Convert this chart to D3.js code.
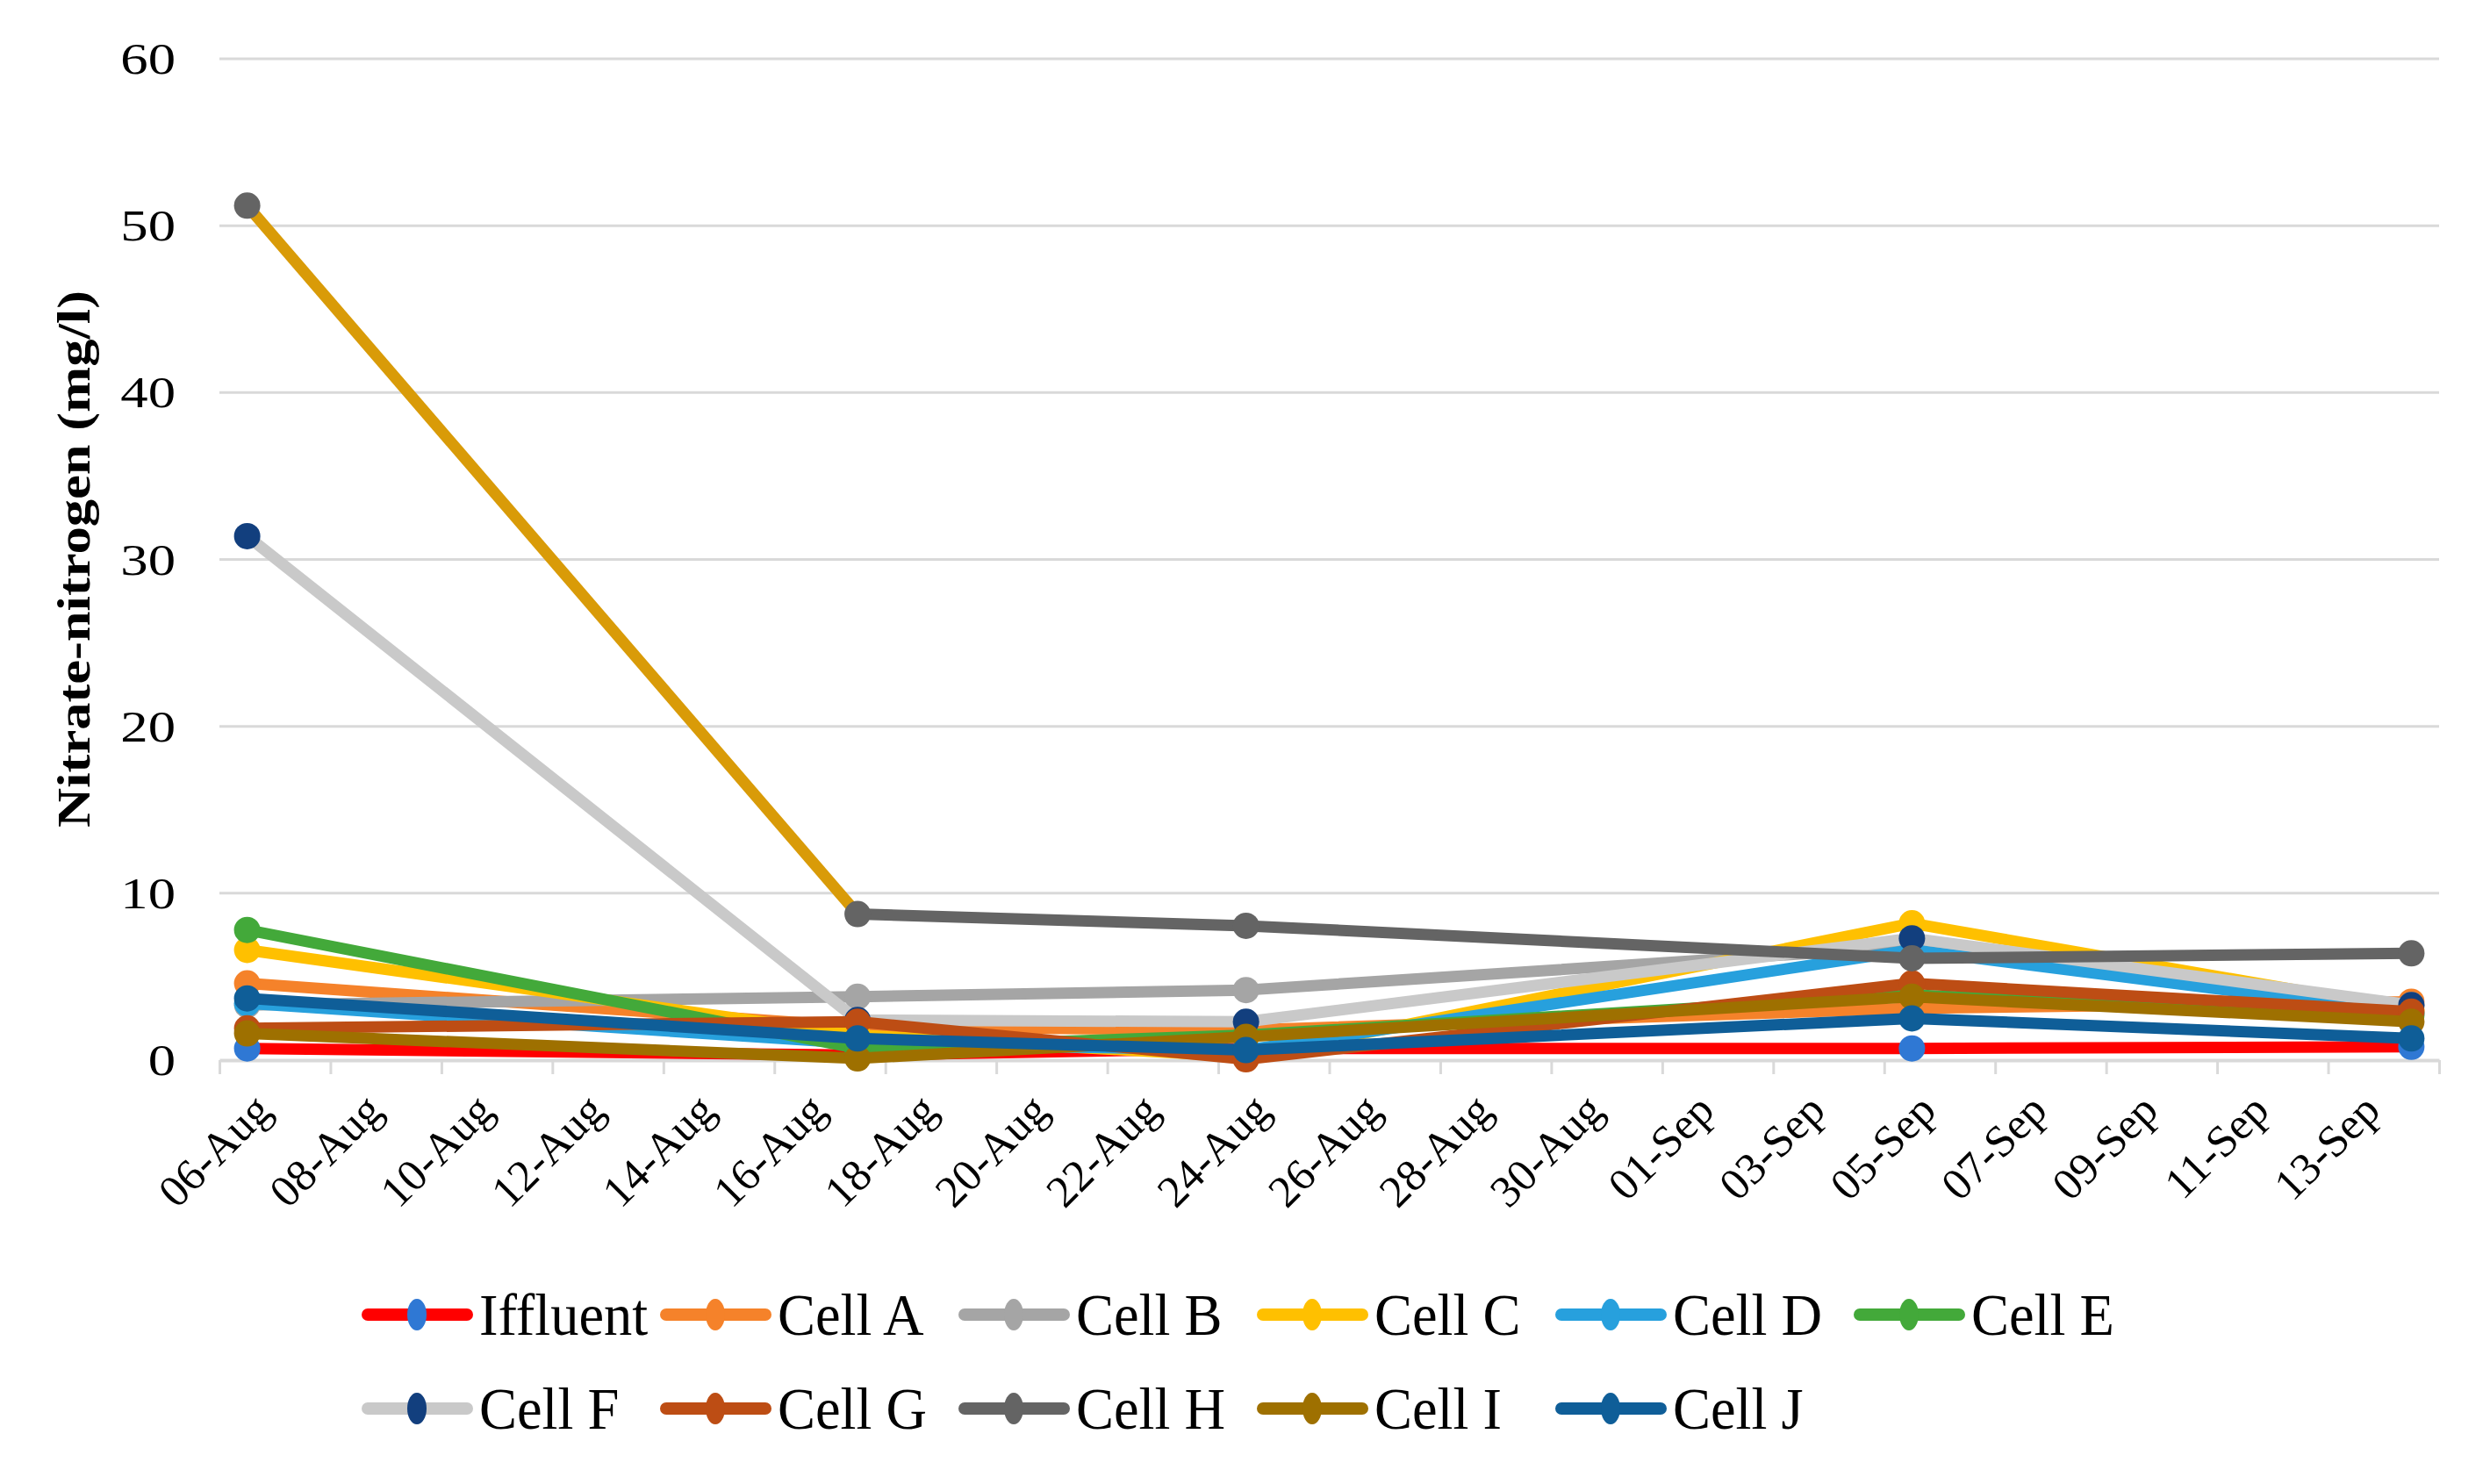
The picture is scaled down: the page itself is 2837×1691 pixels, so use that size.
<!DOCTYPE html>
<html lang="en">
<head>
    <meta charset="UTF-8">
    <title>Nitrate-nitrogen</title>
    <script src="https://d3js.org/d3.v7.min.js"></script>
    <style>
        body { margin: 0; background: #fff; }
        text { font-family: "Liberation Serif", "Times New Roman", serif; fill: #000; }
    </style>
</head>
<body>
    <div class="canvas"></div>
    <script>
        const width = 2837
        const height = 1691

        // sampling dates and series values (mg/l)
        const dates = ['2019-08-06', '2019-08-17', '2019-08-24', '2019-09-05', '2019-09-14']
        const seriesNames = ['Iffluent', 'Cell A', 'Cell B', 'Cell C', 'Cell D', 'Cell E', 'Cell F', 'Cell G', 'Cell H', 'Cell I', 'Cell J']
        const iffluent = [0.7, 0.3, 0.7, 0.7, 0.8]
        const cellA = [4.6, 2.0, 1.8, 3.1, 3.5]
        const cellB = [3.3, 3.8, 4.2, 6.8, 3.3]
        const cellC = [6.6, 1.5, 0.2, 8.2, 3.0]
        const cellD = [3.4, 1.0, 0.6, 6.6, 2.8]
        const cellE = [7.8, 0.7, 1.5, 3.9, 2.7]
        const cellF = [31.4, 2.4, 2.3, 7.3, 3.3]
        const cellG = [1.9, 2.3, 0.05, 4.6, 2.9]
        const cellH = [51.2, 8.75, 8.05, 6.1, 6.4]
        const cellI = [1.6, 0.1, 1.4, 3.8, 2.3]
        const cellJ = [3.7, 1.3, 0.6, 2.5, 1.3]
        const seriesValues = [iffluent, cellA, cellB, cellC, cellD, cellE, cellF, cellG, cellH, cellI, cellJ]

        const xTickLabels = ['06-Aug', '08-Aug', '10-Aug', '12-Aug', '14-Aug', '16-Aug', '18-Aug', '20-Aug', '22-Aug', '24-Aug',
                             '26-Aug', '28-Aug', '30-Aug', '01-Sep', '03-Sep', '05-Sep', '07-Sep', '09-Sep', '11-Sep', '13-Sep']
        const yTicks = [0, 10, 20, 30, 40, 50, 60]

        // line colour / marker colour per series
        const lineColors = ['#ff0000', '#f5822a', '#a5a5a5', '#ffc000', '#27a0dd', '#43a93a', '#c9c9c9', '#bd4d14', '#646464', '#9e7000', '#0f5e98']
        const markerColors = ['#2f78d4', '#f5822a', '#a5a5a5', '#ffc000', '#27a0dd', '#43a93a', '#123f7e', '#bd4d14', '#646464', '#9e7000', '#0f5e98']
        const firstSegmentColorH = '#d99b08'

        const [ml, mr, mt, mb] = [250, 58, 67, 483]

        const svg = d3.select('.canvas')
                    .append('svg')
                    .attr('width', width)
                    .attr('height', height)

        const parse = d3.utcParse('%Y-%m-%d')
        const day = 864e5
        const start = parse('2019-08-06')
        const end = parse('2019-09-14')

        // each day is a slot, points sit in the middle of it
        const x = d3.scaleUtc()
                    .domain([new Date(+start - day / 2), new Date(+end + day / 2)])
                    .range([ml, width - mr])
        const y = d3.scaleLinear()
                    .domain([0, 60])
                    .range([height - mb, mt])

        // gridlines
        svg.append('g')
            .selectAll('line')
            .data(yTicks.slice(1))
            .enter()
            .append('line')
            .attr('x1', ml)
            .attr('x2', width - mr)
            .attr('y1', d => y(d))
            .attr('y2', d => y(d))
            .attr('stroke', '#d9d9d9')
            .attr('stroke-width', 3)

        // y tick labels
        svg.append('g')
            .selectAll('text')
            .data(yTicks)
            .enter()
            .append('text')
            .attr('transform', d => `translate(200, ${y(d) + 17}) scale(1.28, 1.05)`)
            .attr('text-anchor', 'end')
            .style('font-size', '49px')
            .text(d => d)

        // x axis: ticks on slot boundaries every 2 days
        const boundaries = d3.range(0, 40, 2).map(i => new Date(+start - day / 2 + i * day))
        boundaries.push(new Date(+end + day / 2))
        const xAxis = d3.axisBottom(x)
                        .tickValues(boundaries)
                        .tickSize(16)
                        .tickSizeOuter(0)
                        .tickFormat('')
        const xAxisG = svg.append('g')
                        .attr('transform', `translate(0, ${y(0)})`)
                        .call(xAxis)
        xAxisG.select('.domain').attr('stroke', '#d9d9d9').attr('stroke-width', 4)
        xAxisG.selectAll('.tick line').attr('stroke', '#d9d9d9').attr('stroke-width', 3)

        xAxisG.selectAll('.lbl')
            .data(xTickLabels)
            .enter()
            .append('text')
            .attr('class', 'lbl')
            .attr('transform', (d, i) => `translate(${x(new Date(+start + i * 2 * day)) + 30}, 60) rotate(-45)`)
            .attr('text-anchor', 'end')
            .style('font-size', '51px')
            .text(d => d)

        // y axis title
        svg.append('text')
            .attr('transform', 'translate(102, 637) rotate(-90)')
            .attr('text-anchor', 'middle')
            .attr('textLength', 612)
            .attr('lengthAdjust', 'spacingAndGlyphs')
            .style('font-size', '52px')
            .style('font-weight', 'bold')
            .text('Nitrate-nitrogen (mg/l)')

        const line = d3.line()
                        .x(d => x(d.date))
                        .y(d => y(d.value))

        const series = seriesNames.map((name, i) => ({
            name: name,
            line: lineColors[i],
            marker: markerColors[i],
            points: dates.map((dt, j) => ({ date: parse(dt), value: seriesValues[i][j] }))
        }))

        const graph = svg.append('g')
        series.forEach(s => {
            const g = graph.append('g')
            if (s.name === 'Cell H') {
                g.append('path')
                    .attr('fill', 'none')
                    .attr('stroke', firstSegmentColorH)
                    .attr('stroke-width', 13)
                    .attr('stroke-linejoin', 'round')
                    .attr('d', line(s.points.slice(0, 2)))
                g.append('path')
                    .attr('fill', 'none')
                    .attr('stroke', s.line)
                    .attr('stroke-width', 13)
                    .attr('stroke-linejoin', 'round')
                    .attr('d', line(s.points.slice(1)))
            } else {
                g.append('path')
                    .attr('fill', 'none')
                    .attr('stroke', s.line)
                    .attr('stroke-width', 13)
                    .attr('stroke-linejoin', 'round')
                    .attr('d', line(s.points))
            }
            g.selectAll('circle')
                .data(s.points)
                .enter()
                .append('circle')
                .attr('cx', d => x(d.date))
                .attr('cy', d => y(d.value))
                .attr('r', 15)
                .attr('fill', s.marker)
        })

        // legend: two rows, six columns
        const legend = svg.append('g')
        const legendItems = legend.selectAll('g')
            .data(series)
            .enter()
            .append('g')
            .attr('transform', (d, i) => `translate(${412 + 340 * (i % 6)}, ${i < 6 ? 1498 : 1605})`)
        legendItems.append('line')
            .attr('x1', 7)
            .attr('x2', 120)
            .attr('stroke', d => d.line)
            .attr('stroke-width', 14)
            .attr('stroke-linecap', 'round')
        legendItems.append('ellipse')
            .attr('cx', 63)
            .attr('rx', 11)
            .attr('ry', 18)
            .attr('fill', d => d.marker)
        legendItems.append('text')
            .attr('transform', 'translate(134, 23) scale(1.04, 1.1)')
            .style('font-size', '62px')
            .text(d => d.name)
    </script>
</body>
</html>
